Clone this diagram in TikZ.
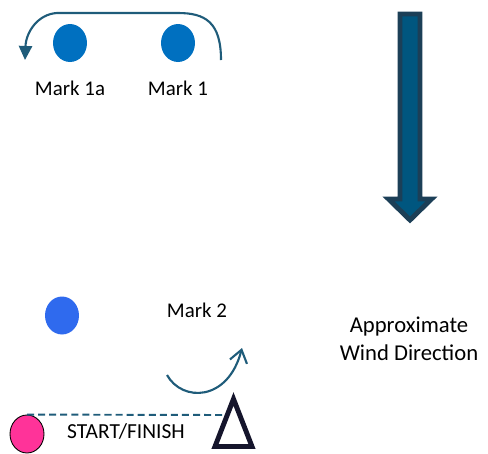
\documentclass[tikz,border=0pt]{standalone}
\usepackage{fontspec}
\setmainfont{Carlito}
\usepackage{xcolor}
\usetikzlibrary{shapes.geometric,arrows.meta}

\definecolor{courseline}{HTML}{1F5C7A}
\definecolor{windfill}{HTML}{00567F}
\definecolor{windedge}{HTML}{1C3F57}
\definecolor{markblue}{HTML}{0070C0}
\definecolor{marktwoblue}{HTML}{2F6AEE}
\definecolor{startpink}{HTML}{FF3399}
\definecolor{committee}{HTML}{15152C}

\tikzset{
  buoy/.style={ellipse, inner sep=0pt, minimum width=0.68cm, minimum height=0.76cm},
  lbl/.style={font=\fontsize{11.9}{14}\selectfont, inner sep=0pt},
  course/.style={courseline, line width=1.2pt}
}

\begin{document}
\begin{tikzpicture}[x=0.02cm, y=-0.02cm]
\useasboundingbox (0,0) rectangle (488,454);
% marks at the top
\node[buoy, fill=markblue] (markOneA) at (70,43) {};
\node[buoy, fill=markblue] (markOne) at (178,43) {};
\node[lbl] (markOneAlbl) at (70,88) {Mark 1a};
\node[lbl] (markOneLbl) at (178,88) {Mark 1};
% rounding arrow
\coordinate (roundIn) at (221,60);
\coordinate (roundOut) at (25,60);
\draw[course, -{Triangle[length=8pt,width=7.5pt]}] (roundIn) .. controls (221,22) and (205,13) .. (178,13) -- (57,13) .. controls (38,14) and (26,32) .. (roundOut);
% wind arrow
\draw[windedge, fill=windfill, line width=2.8pt, line join=miter]
  (400,14) -- (420,14) -- (420,199) -- (431.5,199) -- (410,220) -- (388.5,199) -- (400,199) -- cycle;
\node[lbl, font=\fontsize{12.9}{16}\selectfont, align=center] (wind) at (409,339) {Approximate\\Wind Direction};
% mark 2
\node[buoy, fill=marktwoblue] (markTwo) at (62,315.5) {};
\node[lbl] (markTwoLbl) at (197,310) {Mark 2};
\coordinate (turnIn) at (167,375);
\coordinate (turnOut) at (242,348);
\draw[course, -{Straight Barb[length=7pt,width=10pt]}] (turnIn) .. controls (182,402) and (228,402) .. (turnOut);
% start line
\node[buoy, fill=startpink, draw=black, line width=0.5pt] (startBuoy) at (27,434) {};
\coordinate (startEnd) at (223,415);
\draw[courseline, line width=1.1pt, dash pattern=on 4pt off 2.3pt] (startBuoy.north) -- (startEnd);
\node[lbl, font=\fontsize{12.2}{14}\selectfont] (startLbl) at (126,432) {START/FINISH};
\draw[committee, line width=2.8pt, line join=miter] (233.5,399) -- (252,446.5) -- (215,446.5) -- cycle;
\end{tikzpicture}
\end{document}
